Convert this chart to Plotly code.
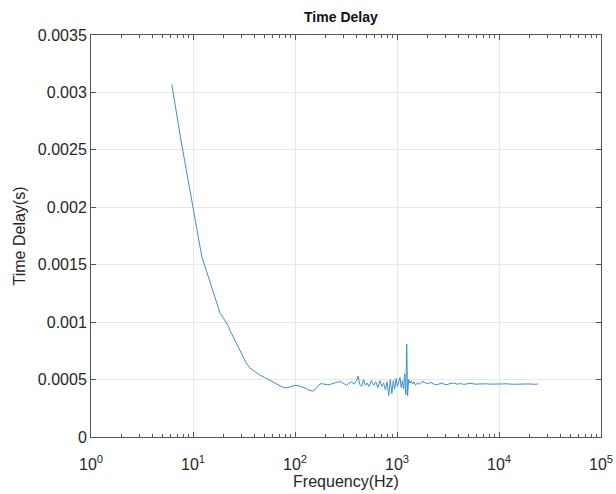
import plotly.graph_objects as go

freq_hz = [6.2, 6.8, 7.5, 8.3, 9.2, 10, 11, 12.2, 13.5, 15, 16.6, 18.4, 20, 22, 23.9, 27, 30, 33,
           36.2, 40, 45, 50, 55, 61, 68, 77, 85, 93, 100, 110, 120, 130, 140, 151, 160, 170, 180,
           195, 210, 225, 240, 260, 280, 300, 320, 340, 360, 380, 400, 417, 430, 450, 470, 490,
           510, 530, 560, 590, 620, 650, 680, 710, 740, 770, 800, 830, 860, 890, 920, 950, 980,
           1010, 1040, 1070, 1100, 1130, 1160, 1190, 1220, 1245, 1270, 1300, 1340, 1380, 1420,
           1470, 1520, 1580, 1650, 1720, 1800, 1900, 2000, 2150, 2300, 2500, 2700, 2900, 3100,
           3300, 3600, 3900, 4200, 4500, 4900, 5300, 5800, 6300, 6900, 7500, 8200, 9000, 10000,
           11000, 12000, 13500, 15000, 16500, 18000, 20000, 22000, 24100]

delay_s = [0.00307, 0.00284, 0.00262, 0.0024, 0.00217, 0.00198, 0.00178, 0.00157, 0.00145,
           0.00132, 0.0012, 0.00108, 0.00103, 0.00097, 0.0009, 0.00081, 0.00072, 0.00065,
           0.0006, 0.00057, 0.00054, 0.00052, 0.0005, 0.00048, 0.00046, 0.00043, 0.00043,
           0.000445, 0.00045, 0.000445, 0.000435, 0.00042, 0.000405, 0.0004, 0.00042, 0.00045,
           0.000465, 0.000462, 0.000455, 0.00046, 0.00047, 0.000478, 0.000482, 0.000465,
           0.00045, 0.00047, 0.00048, 0.00046, 0.00049, 0.00053, 0.00046, 0.00044, 0.0005,
           0.00045, 0.00047, 0.00044, 0.00049, 0.00045, 0.00048, 0.00043, 0.00049, 0.00044,
           0.00047, 0.00041, 0.00048, 0.00036, 0.0005, 0.00038, 0.00049, 0.00042, 0.00051,
           0.00044, 0.00048, 0.00052, 0.00043, 0.00049, 0.00042, 0.00055, 0.00037, 0.00081,
           0.00036, 0.0005, 0.00047, 0.00049, 0.00046, 0.00048, 0.00045, 0.00047, 0.00046,
           0.000475, 0.000485, 0.00047, 0.000465, 0.000475, 0.00046, 0.000455, 0.00047,
           0.00046, 0.000455, 0.000465, 0.00047, 0.00046, 0.000465, 0.000458, 0.000462,
           0.000468, 0.00046, 0.000462, 0.000458, 0.000463, 0.00046, 0.000462, 0.000458,
           0.00046, 0.000463, 0.000459, 0.000461, 0.000458, 0.00046, 0.000462, 0.000459, 0.000461]

x_tick_vals = [1, 10, 100, 1000, 10000, 100000]
x_tick_text = ["10<sup>0</sup>", "10<sup>1</sup>", "10<sup>2</sup>", "10<sup>3</sup>",
               "10<sup>4</sup>", "10<sup>5</sup>"]
y_tick_vals = [0, 0.0005, 0.001, 0.0015, 0.002, 0.0025, 0.003, 0.0035]
y_tick_text = ["0", "0.0005", "0.001", "0.0015", "0.002", "0.0025", "0.003", "0.0035"]
minor_vals = [m * 10 ** d for d in range(0, 5) for m in range(2, 10)]

font_family = "Liberation Sans, Arial, sans-serif"
axis_color = "#555555"

fig = go.Figure()
fig.add_trace(go.Scatter(x=freq_hz, y=delay_s, mode="lines",
                         line=dict(color="#3d8fd1", width=1), showlegend=False))

fig.update_layout(
    width=616, height=494,
    margin=dict(l=91, r=15, t=35, b=57),
    paper_bgcolor="white", plot_bgcolor="white",
    font=dict(family=font_family, size=16, color="#262626"),
    title=dict(text="<b>Time Delay</b>", x=0.49, xanchor="center", y=0.9656,
               yanchor="middle", xref="paper", font=dict(size=14, color="#111111")),
)
fig.update_xaxes(
    type="log", range=[0, 5], tickvals=x_tick_vals, ticktext=x_tick_text,
    showgrid=True, gridcolor="#e8e8e8", gridwidth=1,
    showline=True, linecolor=axis_color, linewidth=1, mirror="ticks",
    ticks="inside", ticklen=5, tickcolor=axis_color, ticklabelstandoff=13,
    minor=dict(tickvals=minor_vals, ticks="inside", ticklen=3, tickcolor=axis_color,
               showgrid=False),
    title=dict(text="Frequency(Hz)", standoff=3, font=dict(size=16)),
    tickfont=dict(size=16), zeroline=False, automargin=False,
)
fig.update_yaxes(
    range=[0, 0.0035], tickvals=y_tick_vals, ticktext=y_tick_text,
    showgrid=True, gridcolor="#e8e8e8", gridwidth=1,
    showline=True, linecolor=axis_color, linewidth=1, mirror="ticks",
    ticks="inside", ticklen=5, tickcolor=axis_color,
    title=dict(text="Time Delay(s)", standoff=8, font=dict(size=16)),
    tickfont=dict(size=16), zeroline=False, automargin=False,
)

fig.write_html(
    "out.html",
    config={"displayModeBar": False},
    post_script="document.body.style.margin='0';document.body.style.overflow='hidden';",
)
